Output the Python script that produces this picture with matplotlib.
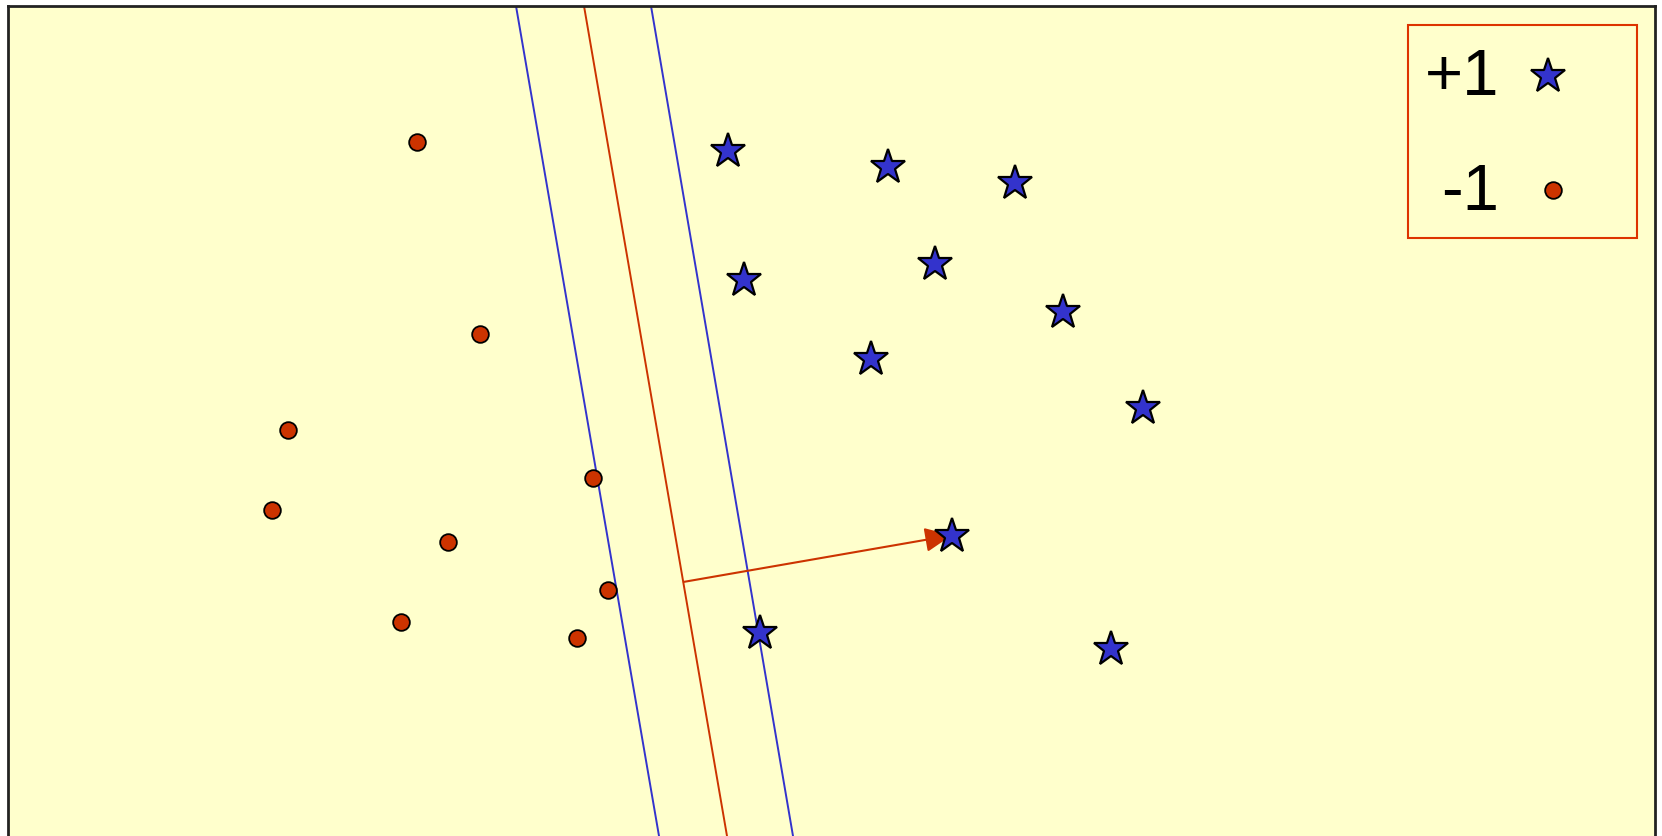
import numpy as np
import matplotlib.pyplot as plt
from matplotlib.patches import Rectangle

# points (pixel-like units, y grows downward)
neg_x = [416.6, 480.2, 288.3, 272.4, 448.4, 592.5, 608.4, 400.7, 576.6]
neg_y = [142.0, 333.9, 430.3, 509.8, 541.6, 478.0, 590.4, 622.2, 638.1]

pos_x = [728.2, 888.2, 1015.4, 744.1, 934.9, 1063.1, 871.3, 1142.6, 951.8, 760.0, 1110.8]
pos_y = [151.5, 167.4, 183.3, 279.8, 263.9, 311.6, 359.3, 408.0, 536.3, 632.7, 648.6]

# separating line and margins: x where each crosses y_top and y_bot
line_y = [6, 836]
margin_left_x = [516, 659]
boundary_x = [584, 727]
margin_right_x = [651, 793]

# normal vector (tail on boundary, head on a support star)
w_tail = (683.7, 581.9)
w_head = (951.8, 535.3)

legend_labels = ['+1', '-1']

bg = '#FFFFCC'
blue = '#3333CC'
red = '#CC3300'

fig = plt.figure(figsize=(16.62, 8.36), dpi=100)
ax = fig.add_axes([8 / 1662, -20 / 836, (1655 - 8) / 1662, (830 + 20) / 836])
ax.set_xlim(8, 1655)
ax.set_ylim(856, 6)
ax.set_facecolor(bg)
ax.set_xticks([])
ax.set_yticks([])
for s in ['left', 'top', 'right']:
    ax.spines[s].set_linewidth(2)
    ax.spines[s].set_color('#222222')
ax.spines['bottom'].set_visible(False)

def extend(xs, ys, y0=0, y1=900):
    k = (xs[1] - xs[0]) / (ys[1] - ys[0])
    return [xs[0] + k * (y0 - ys[0]), xs[0] + k * (y1 - ys[0])], [y0, y1]

for xs, c in [(margin_left_x, blue), (boundary_x, red), (margin_right_x, blue)]:
    lx, ly = extend(xs, line_y)
    ax.plot(lx, ly, color=c, lw=1.4, zorder=2)

ax.annotate('', xy=w_head, xytext=w_tail,
            arrowprops=dict(arrowstyle='-|>,head_length=1.1,head_width=0.5',
                            mutation_scale=15, color=red, lw=1.5,
                            shrinkA=0, shrinkB=0), zorder=3)

ax.plot(neg_x, neg_y, 'o', ms=12, mfc=red, mec='black', mew=1.3, zorder=4)
ax.plot(pos_x, pos_y, '*', ms=26, mfc=blue, mec='black', mew=1.6, zorder=4)

# legend box
ax.add_patch(Rectangle((1408, 25), 229, 213, fill=False, ec='#DD3300', lw=1.5, zorder=5))
ax.text(1462, 78, legend_labels[0], fontsize=47, family='Liberation Sans',
        ha='center', va='center', zorder=6)
ax.text(1470, 193, legend_labels[1], fontsize=47, family='Liberation Sans',
        ha='center', va='center', zorder=6)
ax.plot([1548], [76], '*', ms=26, mfc=blue, mec='black', mew=1.6, zorder=6)
ax.plot([1553], [190], 'o', ms=12, mfc=red, mec='black', mew=1.3, zorder=6)

fig.savefig('out.png', dpi=100)
